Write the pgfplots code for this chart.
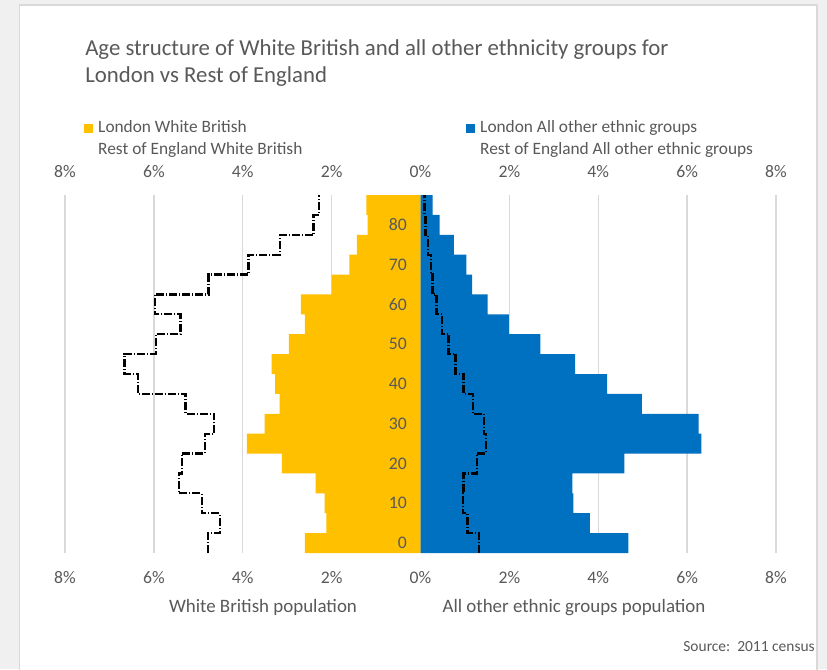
\documentclass[border=0pt]{standalone}
\usepackage{pgfplots}
\pgfplotsset{compat=1.18}
\usepackage{fontspec}
\setmainfont{Carlito}
\definecolor{txt}{HTML}{595959}
\definecolor{wbyellow}{HTML}{FFC000}
\definecolor{obblue}{HTML}{0070C0}
\definecolor{gridc}{HTML}{D9D9D9}
\definecolor{bgc}{HTML}{F0F0F0}
\begin{document}
\begin{tikzpicture}
\begin{scope}[x=0.75pt,y=-0.75pt]
\useasboundingbox (0,0) rectangle (827,669);
\fill[bgc] (0,0) rectangle (827,669);
\fill[white] (19.5,5) rectangle (817,680);
\draw[gridc, line width=1.2pt] (19.5,680) -- (19.5,5) -- (817,5) -- (817,680);
\node[anchor=base west, text=txt, font=\fontsize{17.1}{20}\selectfont, inner sep=0pt] at (85,55) {Age structure of White British and all other ethnicity groups for};
\node[anchor=base west, text=txt, font=\fontsize{17.1}{20}\selectfont, inner sep=0pt] at (85,82) {London vs Rest of England};
\node[anchor=base, text=txt, font=\fontsize{14.2}{16}\selectfont, inner sep=0pt] at (263,612) {White British population};
\node[anchor=base, text=txt, font=\fontsize{14.2}{16}\selectfont, inner sep=0pt] at (574,612) {All other ethnic groups population};
\node[anchor=base east, text=txt, font=\fontsize{11.6}{13}\selectfont, inner sep=0pt] at (815,651) {Source:\ \ 2011 census};
\end{scope}
\begin{axis}[
  at={(48.75pt,-414.75pt)}, anchor=south west,
  scale only axis, width=533.25pt, height=268.5pt,
  xmin=-8, xmax=8, ymin=-2.5, ymax=87.5,
  axis line style={draw=none}, tick style={draw=none},
  xtick={-8,-6,...,8},
  xticklabels={8\%,6\%,4\%,2\%,0\%,2\%,4\%,6\%,8\%},
  xticklabel style={anchor=center, yshift=-18.75pt, text=txt, font=\fontsize{13.25}{15}\selectfont},
  ytick=\empty,
  xmajorgrids, grid style={gridc, line width=1pt},
  legend columns=2,
  legend cell align=left,
  legend style={draw=none, fill=none, inner sep=0pt, at={(axis description cs:0.0262,1.2101)}, anchor=north west,
    font=\fontsize{13}{15}\selectfont, text=txt, row sep=3.5pt,
    nodes={inner xsep=0pt, inner ysep=0pt, text height=9.5pt, text depth=3pt},
    /tikz/every odd column/.append style={column sep=4pt}},
]
\addplot[xbar, bar width=5, bar shift=0pt, fill=wbyellow, draw=none,
  legend image code/.code={\fill[wbyellow] (0pt,-3.4pt) rectangle (6.75pt,3.4pt);}]
  coordinates {(-2.60,0) (-2.12,5) (-2.16,10) (-2.36,15) (-3.12,20) (-3.91,25) (-3.51,30) (-3.17,35) (-3.27,40) (-3.35,45) (-2.96,50) (-2.60,55) (-2.69,60) (-2.00,65) (-1.60,70) (-1.43,75) (-1.19,80) (-1.22,85)};
\addlegendentry{\makebox[275.75pt][l]{London White British}}
\addplot[xbar, bar width=5, bar shift=0pt, fill=obblue, draw=none,
  legend image code/.code={\fill[obblue] (0pt,-3.4pt) rectangle (6.75pt,3.4pt);}]
  coordinates {(4.68,0) (3.81,5) (3.44,10) (3.42,15) (4.59,20) (6.32,25) (6.26,30) (4.98,35) (4.20,40) (3.48,45) (2.70,50) (1.99,55) (1.51,60) (1.16,65) (1.03,70) (0.75,75) (0.43,80) (0.27,85)};
\addlegendentry{London All other ethnic groups}
\addplot[black, line width=1.7pt, no markers, dash pattern=on 6pt off 1.5pt on 0.75pt off 1.5pt,
  legend image code/.code={\path[draw=none,fill=none] (0pt,-3.4pt) rectangle (6.75pt,3.4pt);}]
  coordinates {(-4.79,-2.5) (-4.79,2.5) (-4.52,2.5) (-4.52,7.5) (-4.92,7.5) (-4.92,12.5) (-5.44,12.5) (-5.44,17.5) (-5.37,17.5) (-5.37,22.5) (-4.85,22.5) (-4.85,27.5) (-4.64,27.5) (-4.64,32.5) (-5.29,32.5) (-5.29,37.5) (-6.36,37.5) (-6.36,42.5) (-6.66,42.5) (-6.66,47.5) (-5.96,47.5) (-5.96,52.5) (-5.40,52.5) (-5.40,57.5) (-5.98,57.5) (-5.98,62.5) (-4.77,62.5) (-4.77,67.5) (-3.87,67.5) (-3.87,72.5) (-3.16,72.5) (-3.16,77.5) (-2.41,77.5) (-2.41,82.5) (-2.29,82.5) (-2.29,87.5)};
\addlegendentry{\makebox[275.75pt][l]{Rest of England White British}}
\addplot[black, line width=1.7pt, no markers, dash pattern=on 6pt off 1.5pt on 0.75pt off 1.5pt,
  legend image code/.code={\path[draw=none,fill=none] (0pt,-3.4pt) rectangle (6.75pt,3.4pt);}]
  coordinates {(1.31,-2.5) (1.31,2.5) (1.06,2.5) (1.06,7.5) (0.95,7.5) (0.95,12.5) (0.97,12.5) (0.97,17.5) (1.27,17.5) (1.27,22.5) (1.47,22.5) (1.47,27.5) (1.43,27.5) (1.43,32.5) (1.18,32.5) (1.18,37.5) (0.97,37.5) (0.97,42.5) (0.79,42.5) (0.79,47.5) (0.63,47.5) (0.63,52.5) (0.48,52.5) (0.48,57.5) (0.36,57.5) (0.36,62.5) (0.27,62.5) (0.27,67.5) (0.23,67.5) (0.23,72.5) (0.17,72.5) (0.17,77.5) (0.11,77.5) (0.11,82.5) (0.09,82.5) (0.09,87.5)};
\addlegendentry{Rest of England All other ethnic groups}
\end{axis}
\begin{axis}[
  at={(48.75pt,-414.75pt)}, anchor=south west,
  scale only axis, width=533.25pt, height=268.5pt,
  xmin=-8, xmax=8, ymin=-2.5, ymax=87.5,
  axis line style={draw=none}, tick style={draw=none},
  xtick={-8,-6,...,8},
  xticklabels={8\%,6\%,4\%,2\%,0\%,2\%,4\%,6\%,8\%},
  xticklabel pos=right,
  xticklabel style={anchor=center, yshift=17.25pt, text=txt, font=\fontsize{13.25}{15}\selectfont},
  ytick={0,10,...,80},
  yticklabels={0,10,20,30,40,50,60,70,80},
  yticklabel style={anchor=east, inner xsep=0pt, xshift=256.5pt, text=txt, font=\fontsize{13.25}{15}\selectfont},
]
\end{axis}
\end{tikzpicture}
\end{document}
